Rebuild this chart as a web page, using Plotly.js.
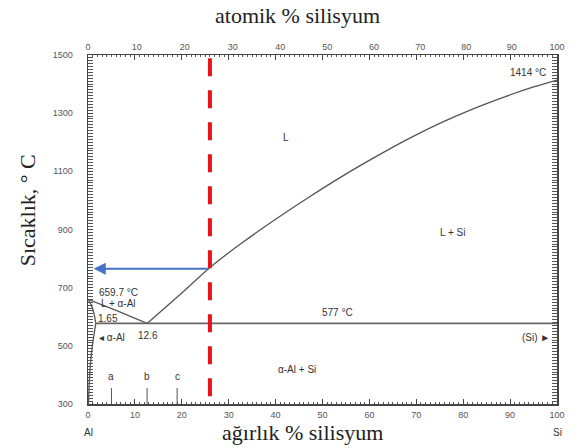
<!DOCTYPE html>
<html>
<head>
<meta charset="utf-8">
<script src="https://cdn.plot.ly/plotly-3.0.1.min.js"></script>
<style>html,body{margin:0;padding:0;background:#fff}#chart{width:577px;height:448px}</style>
</head>
<body>
<div id="chart"></div>
<script>
// Al–Si phase diagram data (weight % Si, temperature °C)
const liqAlWt = [0, 6, 12.6];
const liqAlT = [660, 622, 577];
const liqSiWt = [12.6, 20, 26.2, 33, 40, 47, 54, 61, 68, 75, 82, 89, 95, 100];
const liqSiT = [577, 682, 772, 856, 935, 1010, 1081, 1147, 1209, 1265, 1314, 1357, 1390, 1414];
const solidusWt = [0, 0.7, 1.3, 1.65];
const solidusT = [660, 640, 610, 577];
const solvusWt = [1.65, 1.2, 0.7, 0.35, 0.1];
const solvusT = [577, 530, 470, 400, 300];
const eutWt = [1.65, 100];
const eutT = [577, 577];
const alloyWt = [5, 12.6, 19];
const alloyNames = ['a', 'b', 'c'];
const markerWt = 26;        // red dashed line composition
const arrowT = 765;         // blue arrow temperature
const yTicks = [300, 500, 700, 900, 1100, 1300, 1500];
const xTicks = [0, 10, 20, 30, 40, 50, 60, 70, 80, 90, 100];
// atomic % Si tick labels (top axis) and their weight % positions
const atTickText = ['0', '10', '20', '30', '40', '50', '60', '70', '80', '90', '100'];
const atTickWt = [0, 10.37, 20.65, 30.85, 40.97, 51.0, 60.96, 70.84, 80.63, 90.36, 100];
const labels = [
  {t: '1414 °C', x: 93.8, y: 1441},
  {t: 'L', x: 42.2, y: 1218},
  {t: 'L + Si', x: 77.8, y: 888},
  {t: '577 °C', x: 53.3, y: 616},
  {t: 'α-Al + Si', x: 44.6, y: 417},
  {t: '(Si) ►', x: 95.5, y: 530},
  {t: '659.7 °C', x: 6.6, y: 685},
  {t: 'L + α-Al', x: 6.6, y: 647},
  {t: '1.65', x: 4.3, y: 593},
  {t: '◂ α-Al', x: 5.1, y: 530},
  {t: '12.6', x: 12.8, y: 537}
];

const lineStyle = {color: '#555', width: 1.3};
const traces = [
  {x: liqAlWt, y: liqAlT, mode: 'lines', line: lineStyle},
  {x: liqSiWt, y: liqSiT, mode: 'lines', line: Object.assign({shape: 'spline', smoothing: 0.8}, lineStyle)},
  {x: solidusWt, y: solidusT, mode: 'lines', line: Object.assign({shape: 'spline'}, lineStyle)},
  {x: solvusWt, y: solvusT, mode: 'lines', line: Object.assign({shape: 'spline'}, lineStyle)},
  {x: eutWt, y: eutT, mode: 'lines', line: {color: '#666', width: 1.8}},
  {x: [markerWt, markerWt], y: [327, 1500], mode: 'lines', line: {color: '#e8141c', width: 4, dash: '18px,14px'}},
  {x: [0, 100], y: [300, 300], xaxis: 'x2', mode: 'lines', line: {width: 0}, hoverinfo: 'skip'}
];
alloyWt.forEach(w => traces.push({x: [w, w], y: [300, 355], mode: 'lines', line: {color: '#555', width: 1}}));

const smallFont = {family: 'Liberation Sans, Arial', size: 10, color: '#333'};
const annotations = labels.map(l => ({
  text: l.t, x: l.x, y: l.y, xref: 'x', yref: 'y', showarrow: false, font: smallFont
}));
alloyWt.forEach((w, i) => annotations.push({
  text: alloyNames[i], x: w, y: 393, xref: 'x', yref: 'y', showarrow: false, font: smallFont
}));
annotations.push({
  x: 1.2, y: arrowT, ax: markerWt, ay: arrowT, xref: 'x', yref: 'y', axref: 'x', ayref: 'y',
  showarrow: true, arrowhead: 2, arrowsize: 1.1, arrowwidth: 2.2, arrowcolor: '#4472c4', text: ''
});
annotations.push({text: 'Al', x: 0, y: -0.083, xref: 'x', yref: 'paper', xanchor: 'center', yanchor: 'middle', showarrow: false, font: smallFont});
annotations.push({text: 'Si', x: 100, y: -0.083, xref: 'x', yref: 'paper', xanchor: 'center', yanchor: 'middle', showarrow: false, font: smallFont});
const serif = 'Liberation Serif, Times New Roman';
annotations.push({text: 'ağırlık % silisyum', xref: 'paper', yref: 'paper', x: 0.458, y: -0.083,
  xanchor: 'center', yanchor: 'middle', showarrow: false, font: {family: serif, size: 22, color: '#222'}});
annotations.push({text: 'atomik % silisyum', xref: 'paper', yref: 'paper', x: 0.447, y: 1.112,
  xanchor: 'center', yanchor: 'middle', showarrow: false, font: {family: serif, size: 22, color: '#222'}});
annotations.push({text: 'Sıcaklık, ° C', xref: 'paper', yref: 'paper', x: -0.130, y: 0.555, textangle: -90,
  xanchor: 'center', yanchor: 'middle', showarrow: false, font: {family: serif, size: 22, color: '#222'}});

const tickFont = {family: 'Liberation Sans, Arial', size: 9, color: '#555'};
const layout = {
  width: 577, height: 448,
  margin: {l: 88, r: 20, t: 55, b: 44},
  showlegend: false,
  paper_bgcolor: '#fff', plot_bgcolor: '#fff',
  xaxis: {
    range: [0, 100], tickvals: xTicks, ticks: 'inside', ticklen: 5, tickcolor: '#444',
    showline: true, linecolor: '#444', linewidth: 1.5, mirror: 'allticks',
    showgrid: false, zeroline: false, tickfont: tickFont, ticklabelstandoff: 2,
    minor: {dtick: 1, ticks: 'inside', ticklen: 2, tickcolor: '#555', showgrid: false}
  },
  xaxis2: {
    range: [0, 100], overlaying: 'x', side: 'top', tickvals: atTickWt, ticktext: atTickText, ticks: '',
    showline: false, showgrid: false, zeroline: false, tickfont: tickFont, ticklabelstandoff: 2
  },
  yaxis: {
    range: [300, 1500], tickvals: yTicks, ticks: 'inside', ticklen: 5, tickcolor: '#444',
    showline: true, linecolor: '#444', linewidth: 1.5, mirror: 'allticks',
    showgrid: false, zeroline: false, tickfont: tickFont, ticklabelstandoff: 12,
    minor: {dtick: 10, ticks: 'inside', ticklen: 2, tickcolor: '#555', showgrid: false}
  },
  annotations: annotations
};
Plotly.newPlot('chart', traces, layout, {displayModeBar: false, staticPlot: true});
</script>
</body>
</html>
